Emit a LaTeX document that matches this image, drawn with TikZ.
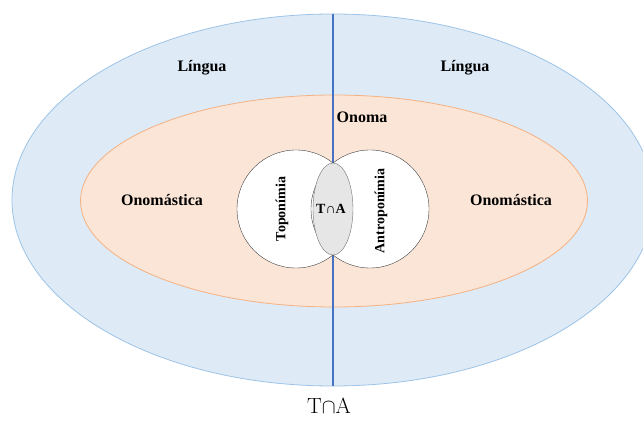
\documentclass[tikz,border=0pt]{standalone}
\usepackage{fontspec}
\newfontfamily\tnr{Liberation Serif}
\usetikzlibrary{shapes.geometric}
\definecolor{linguafill}{HTML}{DEEBF7}
\definecolor{linguaedge}{HTML}{9DC3E6}
\definecolor{onomafill}{HTML}{FBE5D6}
\definecolor{onomaedge}{HTML}{F4B183}
\definecolor{meioline}{RGB}{68,114,196}
\definecolor{interfill}{HTML}{E6E6E6}
\begin{document}
\begin{tikzpicture}[x=1pt,y=1pt,
    area/.style={ellipse,inner sep=0pt},
    lbl/.style={font=\tnr\bfseries\fontsize{16}{18}\selectfont},
    rlbl/.style={font=\tnr\bfseries\fontsize{14}{16}\selectfont,rotate=90}]
  \useasboundingbox (0,0) rectangle (643,421);
  \node[area,draw=linguaedge,fill=linguafill,line width=0.8pt,
        minimum width=642,minimum height=372] (lingua) at (333,221) {};
  \node[area,draw=onomaedge,fill=onomafill,line width=0.8pt,
        minimum width=507,minimum height=212] (onoma) at (334,220) {};
  \draw[draw=meioline,line width=1.1pt] (lingua.north) -- (lingua.south);
  \node[circle,draw=black!75,fill=white,minimum size=118,inner sep=0pt] (topo) at (296,212) {};
  \node[circle,draw=black!75,fill=white,minimum size=118,inner sep=0pt] (antro) at (370,212) {};
  \node[area,draw=black!55,fill=interfill,minimum width=40,minimum height=92] (inter) at (333,212) {};
  \node[lbl] (l1) at (202,353) {Língua};
  \node[lbl] (l2) at (465,353) {Língua};
  \node[lbl] (l3) at (362,304) {Onoma};
  \node[lbl] (l4) at (162,221) {Onomástica};
  \node[lbl] (l5) at (511,221) {Onomástica};
  \node[rlbl] (l6) at (282,212) {Toponímia};
  \node[rlbl] (l7) at (381,210) {Antroponímia};
  \node[font=\tnr\bfseries\fontsize{14}{16}\selectfont] (l8) at (331,212) {T∩A};
  \node[font=\fontsize{22}{24}\selectfont] (cap) at (329,15) {T{$\cap$}A};
\end{tikzpicture}
\end{document}
